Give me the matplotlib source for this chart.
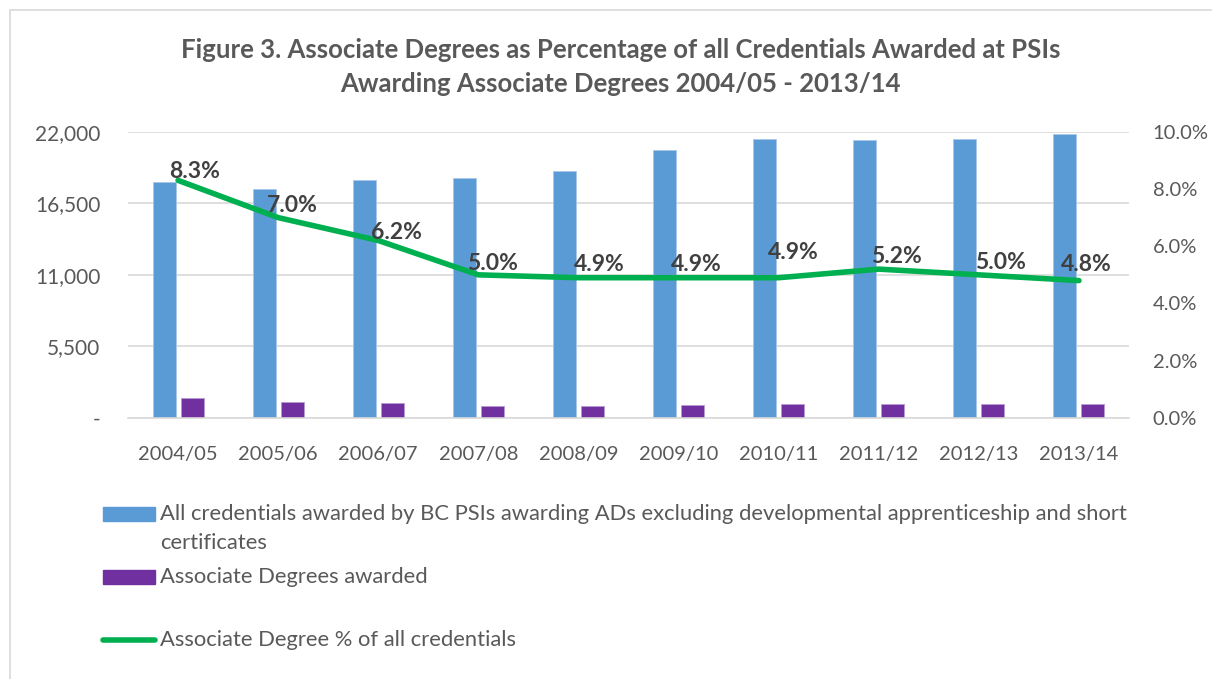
import numpy as np
import matplotlib.pyplot as plt
from matplotlib.patches import Rectangle
from matplotlib.lines import Line2D

plt.rcParams['font.family'] = ['Lato', 'DejaVu Sans']

years = ['2004/05', '2005/06', '2006/07', '2007/08', '2008/09',
         '2009/10', '2010/11', '2011/12', '2012/13', '2013/14']
all_credentials = [18150, 17570, 18260, 18410, 18970, 20610, 21410, 21330, 21410, 21840]
assoc_degrees = [1507, 1230, 1132, 921, 930, 1010, 1049, 1109, 1070, 1048]
assoc_pct = [8.3, 7.0, 6.2, 5.0, 4.9, 4.9, 4.9, 5.2, 5.0, 4.8]

left_ticks = [0, 5500, 11000, 16500, 22000]
left_labels = ['-', '5,500', '11,000', '16,500', '22,000']
right_ticks = [0, 2, 4, 6, 8, 10]

# label nudges in pixels (dx, dy up)
label_offsets = [(17, 9), (14, 12), (18, 8), (14, 11), (21, 13),
                 (18, 13), (15, 25), (18, 13), (22, 12), (7, 16)]

BLUE = '#5B9BD5'
PURPLE = '#7030A0'
GREEN = '#00B050'
GRID = '#D9D9D9'
TXT = '#595959'
LBL = '#404040'

W, H = 1212, 679
fig = plt.figure(figsize=(W / 100, H / 100), dpi=100)

def fx(px):
    return px / W

def fy(py):
    return 1 - py / H

# chart frame
fig.add_artist(Rectangle((fx(10), fy(690)), fx(1210), fy(10) - fy(690),
                         transform=fig.transFigure, fill=False,
                         edgecolor='#D9D9D9', lw=1.2))

ax = fig.add_axes([fx(128), fy(418), fx(1129) - fx(128), fy(131.7) - fy(418)])
ax2 = ax.twinx()

x = np.arange(len(years))
w = 0.23
ax.bar(x - 0.14, all_credentials, w, color=BLUE, edgecolor='#A9C8EA', lw=0.6, zorder=2)
ax.bar(x + 0.14, assoc_degrees, w, color=PURPLE, edgecolor='#B79BD0', lw=0.6, zorder=2)

ax.set_xlim(-0.5, len(years) - 0.5)
ax.set_ylim(0, 22000)
ax.set_yticks(left_ticks)
ax.set_yticklabels(left_labels)
ax.set_xticks(x)
ax.set_xticklabels(years)
ax.yaxis.grid(True, color=GRID, lw=1.2, zorder=0)
ax.set_axisbelow(True)
for s in ['top', 'left', 'right']:
    ax.spines[s].set_visible(False)
ax.spines['bottom'].set_color(GRID)
ax.spines['bottom'].set_linewidth(1.2)
ax.tick_params(axis='both', length=0, labelsize=14.5, labelcolor=TXT)
ax.tick_params(axis='y', pad=20, labelsize=15)
ax.tick_params(axis='x', pad=20)

ax2.plot(x, assoc_pct, color=GREEN, lw=4, solid_capstyle='round', zorder=3)
ax2.set_ylim(0, 10)
ax2.set_yticks(right_ticks)
ax2.set_yticklabels([f'{t:.1f}%' for t in right_ticks])
for s in ['top', 'left', 'right', 'bottom']:
    ax2.spines[s].set_visible(False)
ax2.tick_params(axis='y', length=0, labelsize=14.5, labelcolor=TXT, pad=17)

for xi, p, (dx, dy) in zip(x, assoc_pct, label_offsets):
    ax2.annotate(f'{p:.1f}%', (xi, p), xytext=(dx, dy), textcoords='offset pixels',
                 ha='center', va='center', fontsize=16.5, fontweight='bold', color=LBL)

fig.text(0.512, fy(50), 'Figure 3. Associate Degrees as Percentage of all Credentials Awarded at PSIs',
         ha='center', va='center', fontsize=18.5, fontweight='bold', color=TXT)
fig.text(0.512, fy(84), 'Awarding Associate Degrees 2004/05 - 2013/14',
         ha='center', va='center', fontsize=18.5, fontweight='bold', color=TXT)

# legend
fig.add_artist(Rectangle((fx(103), fy(521)), fx(52), fy(507) - fy(521),
                         transform=fig.transFigure, color=BLUE))
fig.text(fx(160), fy(514), 'All credentials awarded by BC PSIs awarding ADs excluding developmental apprenticeship and short',
         ha='left', va='center', fontsize=15.8, color=TXT)
fig.text(fx(160), fy(543), 'certificates', ha='left', va='center', fontsize=15.8, color=TXT)
fig.add_artist(Rectangle((fx(103), fy(584)), fx(52), fy(570) - fy(584),
                         transform=fig.transFigure, color=PURPLE))
fig.text(fx(160), fy(577), 'Associate Degrees awarded', ha='left', va='center', fontsize=15.8, color=TXT)
fig.add_artist(Line2D([fx(103), fx(155)], [fy(640), fy(640)], transform=fig.transFigure,
                      color=GREEN, lw=4, solid_capstyle='round'))
fig.text(fx(160), fy(640), 'Associate Degree % of all credentials', ha='left', va='center',
         fontsize=15.8, color=TXT)

fig.savefig('out.png', dpi=100)
